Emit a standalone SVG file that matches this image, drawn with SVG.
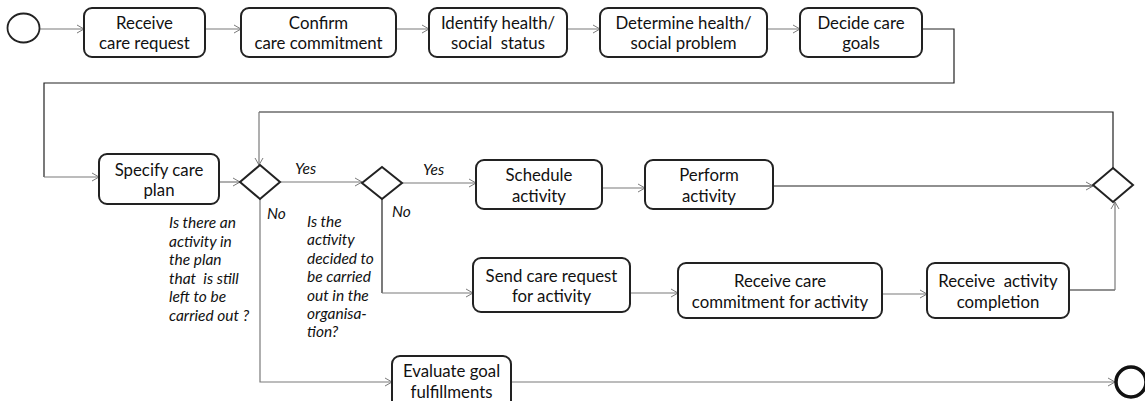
<svg xmlns="http://www.w3.org/2000/svg" width="1145" height="401" viewBox="0 0 1145 401">
<style>
.box{fill:#fff;stroke:#222;stroke-width:2}
.dia{fill:#fff;stroke:#222;stroke-width:2}
.t{font-family:Lato,"Liberation Sans",sans-serif;font-size:16.8px;fill:#111;text-anchor:middle;white-space:pre}
.it{font-family:Lato,"Liberation Sans",sans-serif;font-size:15.5px;font-style:italic;fill:#111;white-space:pre}
.c{fill:none;stroke:#7a7a7a;stroke-width:1.2}
.k{fill:none;stroke:#222;stroke-width:1.2}
</style>
<defs>
<marker id="a" markerWidth="10" markerHeight="10" refX="8" refY="5" orient="auto" markerUnits="userSpaceOnUse">
<path d="M1,1 L8,5 L1,9" fill="none" stroke="#7a7a7a" stroke-width="1"/>
</marker>
</defs>
<g id="connectors">
<path class="c" d="M40,29 H84" marker-end="url(#a)"/>
<path class="c" d="M205,29 H241" marker-end="url(#a)"/>
<path class="c" d="M396,29 H429" marker-end="url(#a)"/>
<path class="c" d="M567,29 H600" marker-end="url(#a)"/>
<path class="c" d="M767,29 H800" marker-end="url(#a)"/>
<path class="k" d="M922,29 H954 V83 H44 V177"/>
<path class="c" d="M44,177 H99" marker-end="url(#a)"/>
<path class="c" d="M219,182 H240" marker-end="url(#a)"/>
<path class="c" d="M280,182 H362" marker-end="url(#a)"/>
<path class="c" d="M402,183 H476" marker-end="url(#a)"/>
<path class="c" d="M602,188 H645" marker-end="url(#a)"/>
<path class="k" d="M773,186 H1093" marker-end="url(#a)"/>
<path class="k" d="M1113,168 V112 H259"/>
<path class="c" d="M259,112 V165" marker-end="url(#a)"/>
<path class="k" d="M382,199 V293"/>
<path class="c" d="M382,293 H473" marker-end="url(#a)"/>
<path class="c" d="M630,293 H678" marker-end="url(#a)"/>
<path class="c" d="M882,294 H927" marker-end="url(#a)"/>
<path class="k" d="M1069,290 H1115"/>
<path class="c" d="M1115,290 V202" marker-end="url(#a)"/>
<path class="c" d="M260,199 V382 H392" marker-end="url(#a)"/>
<path class="c" d="M511,382 H1115" marker-end="url(#a)"/>
</g>
<g id="start"><ellipse cx="23.5" cy="28" rx="16" ry="14.5" fill="#fff" stroke="#222" stroke-width="1.8"/></g>
<g id="n1"><rect class="box" x="84" y="8" width="121" height="49" rx="8"/><text class="t" x="144.5" y="28.5">Receive</text><text class="t" x="144.5" y="48.5">care request</text></g>
<g id="n2"><rect class="box" x="241" y="8" width="155" height="49" rx="8"/><text class="t" x="318.5" y="28.5">Confirm</text><text class="t" x="318.5" y="48.5">care commitment</text></g>
<g id="n3"><rect class="box" x="429" y="8" width="138" height="49" rx="8"/><text class="t" x="498" y="28.5">Identify health/</text><text class="t" x="498" y="48.5">social  status</text></g>
<g id="n4"><rect class="box" x="600" y="8" width="167" height="49" rx="8"/><text class="t" x="683.5" y="28.5">Determine health/</text><text class="t" x="683.5" y="48.5">social problem</text></g>
<g id="n5"><rect class="box" x="800" y="8" width="122" height="49" rx="8"/><text class="t" x="861" y="28.5">Decide care</text><text class="t" x="861" y="48.5">goals</text></g>
<g id="n6"><rect class="box" x="99" y="154" width="120" height="50" rx="8"/><text class="t" x="159" y="175.5">Specify care</text><text class="t" x="159" y="195.5">plan</text></g>
<g id="d1"><path class="dia" d="M260,165 L280,182 L260,199 L240,182 Z"/></g>
<g id="d2"><path class="dia" d="M382,167 L402,183 L382,199 L362,183 Z"/></g>
<g id="d3"><path class="dia" d="M1113,168 L1133,185 L1113,202 L1093,185 Z"/></g>
<g id="n7"><rect class="box" x="476" y="160" width="126" height="49" rx="8"/><text class="t" x="539" y="180.5">Schedule</text><text class="t" x="539" y="201.5">activity</text></g>
<g id="n8"><rect class="box" x="645" y="160" width="128" height="49" rx="8"/><text class="t" x="709" y="180.5">Perform</text><text class="t" x="709" y="201.5">activity</text></g>
<g id="n9"><rect class="box" x="473" y="258" width="157" height="54" rx="8"/><text class="t" x="551.5" y="281.5">Send care request</text><text class="t" x="551.5" y="301.5">for activity</text></g>
<g id="n10"><rect class="box" x="678" y="263" width="204" height="55" rx="8"/><text class="t" x="780" y="286.5">Receive care</text><text class="t" x="780" y="307.5">commitment for activity</text></g>
<g id="n11"><rect class="box" x="927" y="263" width="142" height="55" rx="8"/><text class="t" x="998" y="286.5">Receive  activity</text><text class="t" x="998" y="307.5">completion</text></g>
<g id="n12"><rect class="box" x="392" y="356" width="119" height="56" rx="8"/><text class="t" x="451.5" y="376.5">Evaluate goal</text><text class="t" x="451.5" y="397.5">fulfillments</text></g>
<g id="end"><circle cx="1131" cy="382" r="15" fill="#fff" stroke="#111" stroke-width="3.5"/></g>
<g id="labels">
<text class="it" x="295" y="174">Yes</text>
<text class="it" x="423" y="175">Yes</text>
<text class="it" x="267" y="218.5">No</text>
<text class="it" x="392" y="216.5">No</text>
<text class="it" x="169" y="228">Is there an</text>
<text class="it" x="169" y="246.5">activity in</text>
<text class="it" x="169" y="265">the plan</text>
<text class="it" x="169" y="283.5">that  is still</text>
<text class="it" x="169" y="302">left to be</text>
<text class="it" x="169" y="320.5">carried out ?</text>
<text class="it" x="307" y="227">Is the</text>
<text class="it" x="307" y="245.3">activity</text>
<text class="it" x="307" y="263.5">decided to</text>
<text class="it" x="307" y="282">be carried</text>
<text class="it" x="307" y="300.5">out in the</text>
<text class="it" x="307" y="319">organisa-</text>
<text class="it" x="307" y="337">tion?</text>
</g>
</svg>
